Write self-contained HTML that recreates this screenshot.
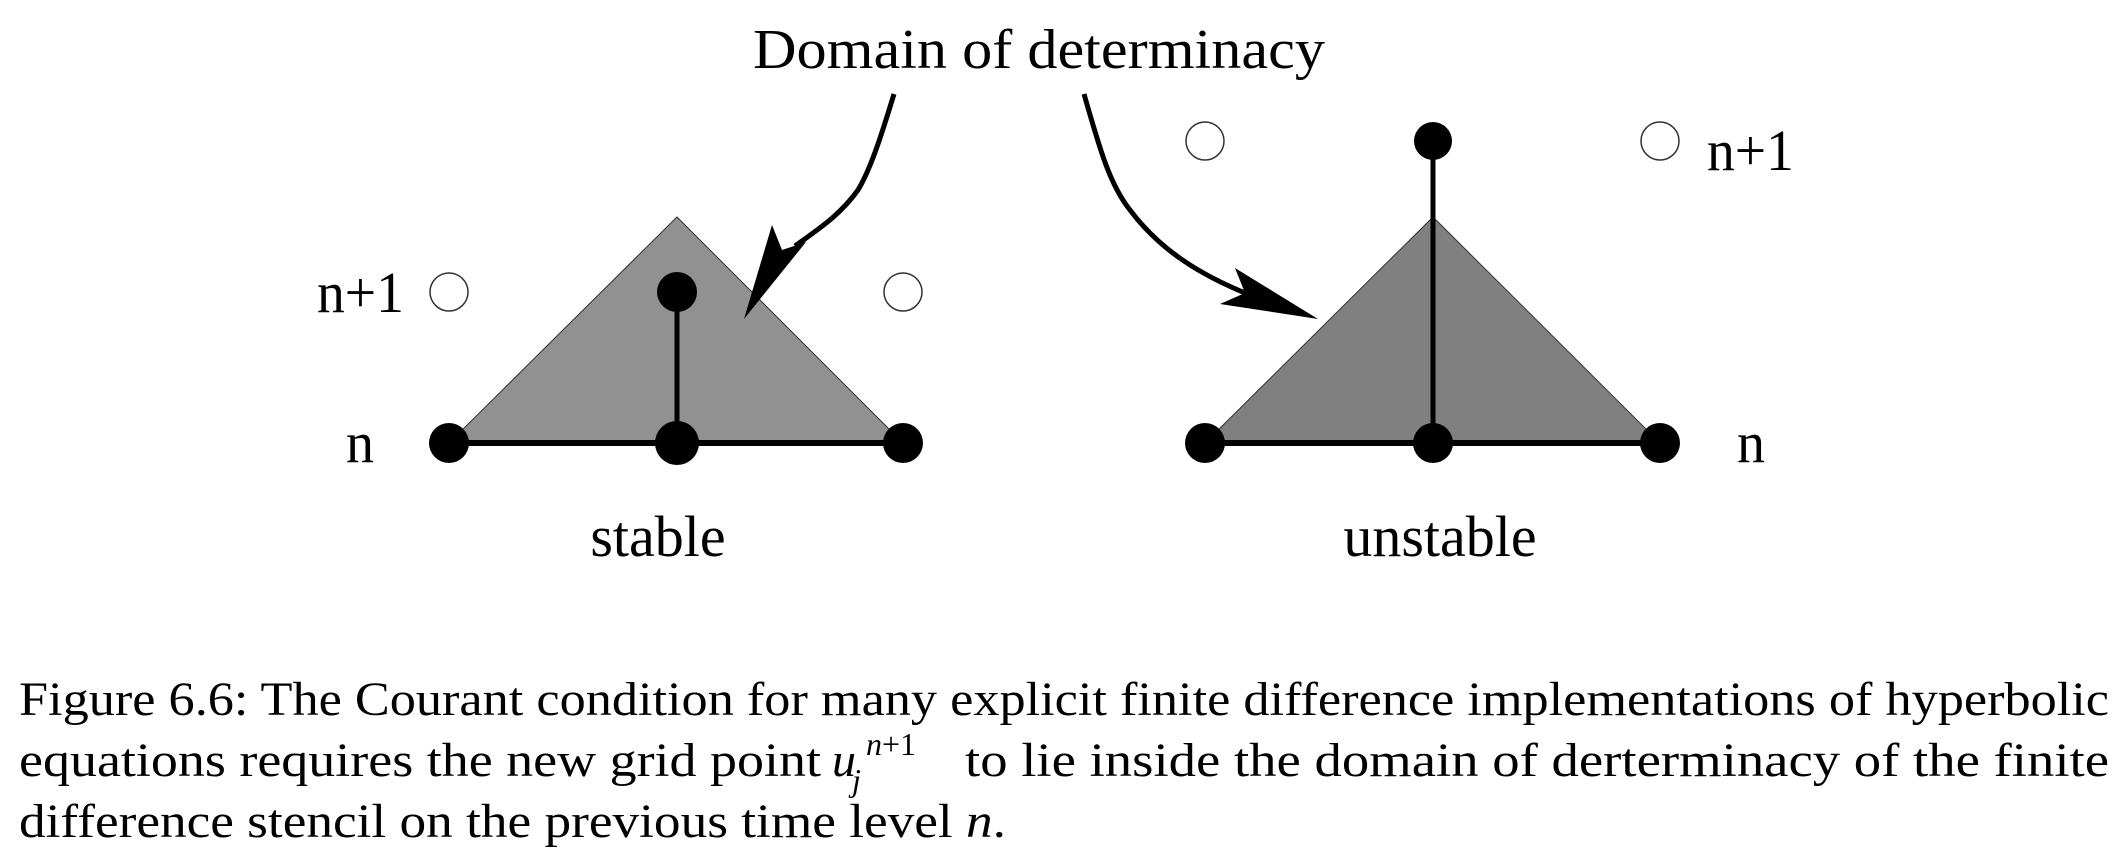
<!DOCTYPE html>
<html><head><meta charset="utf-8"><style>
html,body{margin:0;padding:0;background:#fff;}
svg{display:block;}
text{font-family:"Liberation Serif",serif;fill:#000;}
</style></head><body>
<svg width="2126" height="860" viewBox="0 0 2126 860" xmlns="http://www.w3.org/2000/svg">
<text x="753" y="68" font-size="56" textLength="572" lengthAdjust="spacingAndGlyphs">Domain of determinacy</text>

<polygon points="449,443 677,217 903,443" fill="#919191" stroke="#333" stroke-width="1"/>
<line x1="449" y1="443" x2="903" y2="443" stroke="#000" stroke-width="6"/>
<line x1="677" y1="292" x2="677" y2="443" stroke="#000" stroke-width="5"/>
<circle cx="449" cy="443" r="20"/>
<circle cx="677" cy="443" r="22"/>
<circle cx="903" cy="443" r="20"/>
<circle cx="677" cy="292" r="20"/>
<circle cx="449" cy="292" r="19" fill="#fff" stroke="#333" stroke-width="1.5"/>
<circle cx="903" cy="292" r="19" fill="#fff" stroke="#333" stroke-width="1.5"/>
<text x="317" y="312" font-size="58" textLength="87" lengthAdjust="spacingAndGlyphs">n+1</text>
<text x="346" y="462" font-size="58" textLength="28" lengthAdjust="spacingAndGlyphs">n</text>
<text x="658" y="556" font-size="58" text-anchor="middle">stable</text>

<polygon points="1205,443 1433,217 1660,443" fill="#808080" stroke="#333" stroke-width="1"/>
<line x1="1205" y1="443" x2="1660" y2="443" stroke="#000" stroke-width="6"/>
<line x1="1433" y1="141" x2="1433" y2="443" stroke="#000" stroke-width="5"/>
<circle cx="1205" cy="443" r="20"/>
<circle cx="1433" cy="443" r="20"/>
<circle cx="1660" cy="443" r="20"/>
<circle cx="1433" cy="141" r="19"/>
<circle cx="1205" cy="141" r="19" fill="#fff" stroke="#333" stroke-width="1.5"/>
<circle cx="1660" cy="141" r="19" fill="#fff" stroke="#333" stroke-width="1.5"/>
<text x="1707" y="170" font-size="58" textLength="87" lengthAdjust="spacingAndGlyphs">n+1</text>
<text x="1737" y="462" font-size="58" textLength="28" lengthAdjust="spacingAndGlyphs">n</text>
<text x="1440" y="556" font-size="58" text-anchor="middle">unstable</text>

<path d="M894,94 C880,140 870,170 858,190 C840,215 820,228 795,246" fill="none" stroke="#000" stroke-width="5"/>
<polygon points="744,319 772,225 782,250 806,242" fill="#000"/>
<path d="M1084,94 C1100,150 1110,185 1130,210 C1160,250 1200,275 1250,295" fill="none" stroke="#000" stroke-width="5"/>
<polygon points="1318,319 1235,268 1245,293 1220,304" fill="#000"/>

<g font-size="48">
<text x="19" y="715" textLength="2090" lengthAdjust="spacingAndGlyphs">Figure 6.6:  The Courant condition for many explicit finite difference implementations of hyperbolic</text>
<text x="19" y="776" textLength="802" lengthAdjust="spacingAndGlyphs">equations requires the new grid point</text>
<text x="832" y="776" font-style="italic">u</text>
<text x="866" y="755" font-size="32"><tspan font-style="italic">n</tspan>+1</text>
<text x="852" y="791" font-size="32" font-style="italic">j</text>
<text x="965" y="776" textLength="1144" lengthAdjust="spacingAndGlyphs">to lie inside the domain of derterminacy of the finite</text>
<text x="19" y="837" textLength="987" lengthAdjust="spacingAndGlyphs">difference stencil on the previous time level <tspan font-style="italic">n</tspan>.</text>
</g>
</svg>
</body></html>
